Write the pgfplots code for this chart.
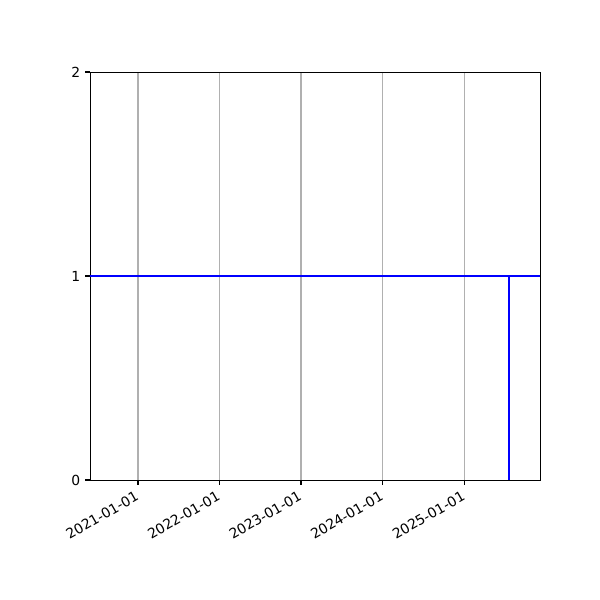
\documentclass[border=0pt]{standalone}
\usepackage{pgfplots}
\pgfplotsset{compat=1.18}
\usepackage{fontspec}
\setmainfont{DejaVu Sans}
\definecolor{gridgray}{HTML}{B0B0B0}
\begin{document}
\begin{tikzpicture}
\path[use as bounding box] (-64.8pt,-86.4pt) rectangle (367.2pt,345.6pt);
\begin{axis}[
  at={(0,0)}, anchor=south west,
  scale only axis, width=324pt, height=293.76pt,
  xmin=-215, xmax=1800, ymin=0, ymax=2,
  xtick={0,365,730,1095,1461},
  xticklabels={2021-01-01,2022-01-01,2023-01-01,2024-01-01,2025-01-01},
  ytick={0,1,2},
  x tick label style={rotate=30, anchor=north east, font=\fontsize{10}{12}\selectfont, inner sep=2pt, xshift=-2pt},
  y tick label style={font=\fontsize{10}{12}\selectfont},
  /pgf/number format/assume math mode=true,
  tick align=outside, major tick length=3.5pt,
  xtick pos=bottom, ytick pos=left,
  tick style={black, line width=0.8pt},
  axis line style={line width=0.7pt},
  xmajorgrids, grid style={gridgray, line width=0.8pt},
]
\addplot[blue, line width=1.8pt] coordinates {(-300,1) (1900,1)};
\addplot[blue, line width=1.8pt] coordinates {(1661,0) (1661,1)};
\end{axis}
\end{tikzpicture}
\end{document}
